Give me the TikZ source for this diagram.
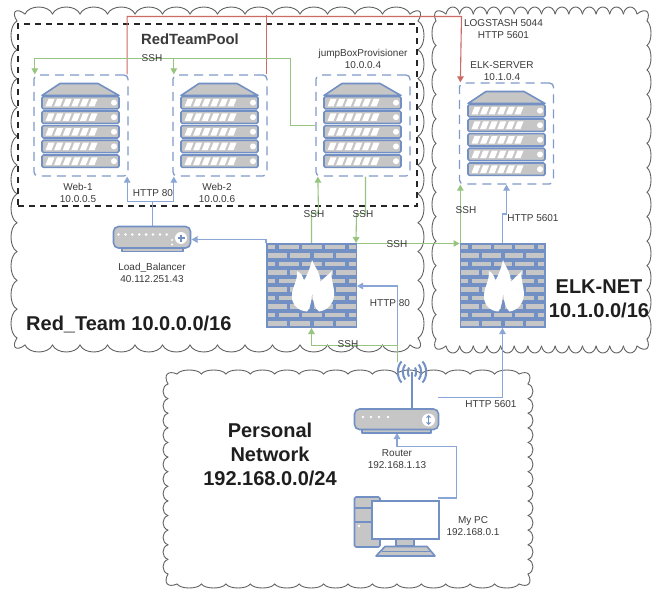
\documentclass[tikz,border=0pt]{standalone}
\usepackage{fontspec}
\setmainfont{Liberation Sans}
\usetikzlibrary{arrows.meta,calc}
\definecolor{iconblue}{HTML}{7290C4}
\definecolor{iconfill}{HTML}{C6C6C6}
\definecolor{linkblue}{HTML}{8AA6D6}
\definecolor{linkgreen}{HTML}{97C57F}
\definecolor{linkred}{HTML}{CC6A66}
\definecolor{labelgrey}{HTML}{3A3A3A}
\tikzset{
  cloudline/.style={draw=black!62,line width=0.9pt,line cap=round},
  poolbox/.style={draw=black!85,line width=1.7pt,dash pattern=on 6pt off 5pt},
  srvbox/.style={draw=iconblue!90,line width=1.3pt,dash pattern=on 9pt off 6pt,rounded corners=4pt,minimum width=94pt,minimum height=101pt,inner sep=0pt},
  iconbox/.style={inner sep=0pt,outer sep=0pt},
  txt/.style={text=labelgrey,inner sep=0pt,align=center,font=\fontsize{10}{12}\selectfont},
  bigtxt/.style={text=black!88,inner sep=0pt,align=center,font=\fontsize{20}{24}\selectfont\bfseries},
  link/.style={line width=1.1pt,rounded corners=0pt},
  blink/.style={link,draw=linkblue},
  glink/.style={link,draw=linkgreen},
  rlink/.style={link,draw=linkred},
  tip/.style={-{Triangle[length=6pt,width=6.5pt]}},
  iconline/.style={draw=iconblue,line width=1.6pt,fill=iconfill,line join=round},
}
\newcommand\bumps[8]{%
  \foreach \i in {1,...,#5}{%
    \pgfmathsetmacro\sdx{(#3-(#1))/#5}%
    \pgfmathsetmacro\sdy{(#4-(#2))/#5}%
    \pgfmathsetmacro\ax{#1+(\i-1)*\sdx}%
    \pgfmathsetmacro\ay{#2+(\i-1)*\sdy}%
    \pgfmathsetmacro\bx{\ax+\sdx}%
    \pgfmathsetmacro\by{\ay+\sdy}%
    \pgfmathsetmacro\pa{\ax+0.15*\sdx+1.333*#6*#7}%
    \pgfmathsetmacro\pb{\ay+0.15*\sdy+1.333*#6*#8}%
    \pgfmathsetmacro\qa{\bx-0.15*\sdx+1.333*#6*#7}%
    \pgfmathsetmacro\qb{\by-0.15*\sdy+1.333*#6*#8}%
    \draw[cloudline] (\ax,\ay) .. controls (\pa,\pb) and (\qa,\qb) .. (\bx,\by);
  }}
\newcommand\cloudbox[8]{%
  \pgfmathsetmacro\cc{14}%
  \pgfmathsetmacro\xa{#1+\cc}\pgfmathsetmacro\xb{#3-\cc}%
  \pgfmathsetmacro\ya{#2+\cc}\pgfmathsetmacro\yb{#4-\cc}%
  \pgfmathsetmacro\tt{#2+#7}\pgfmathsetmacro\bb{#4-#7}%
  \pgfmathsetmacro\ll{#1+#8}\pgfmathsetmacro\rr{#3-#8}%
  \let\XA\xa\let\XB\xb\let\YA\ya\let\YB\yb\let\TT\tt\let\BB\bb\let\LL\ll\let\RR\rr
  \bumps{\XA}{\TT}{\XB}{\TT}{#5}{#7}{0}{-1}%
  \bumps{\XA}{\BB}{\XB}{\BB}{#5}{#7}{0}{1}%
  \bumps{\LL}{\YA}{\LL}{\YB}{#6}{#8}{-1}{0}%
  \bumps{\RR}{\YA}{\RR}{\YB}{#6}{#8}{1}{0}%
  \draw[cloudline] (\XA,\TT) .. controls (#1+5,#2) and (#1,#2+5) .. (\LL,\YA);
  \draw[cloudline] (\XB,\TT) .. controls (#3-5,#2) and (#3,#2+5) .. (\RR,\YA);
  \draw[cloudline] (\XA,\BB) .. controls (#1+5,#4) and (#1,#4-5) .. (\LL,\YB);
  \draw[cloudline] (\XB,\BB) .. controls (#3-5,#4) and (#3,#4-5) .. (\RR,\YB);
}
% server icon, origin = NW corner of its dashed box
\newcommand\servericon[1]{%
  \begin{scope}[shift={(#1)}]
    \draw[iconline] (26,8.5) -- (64,8.5) -- (85,20.5) -- (8,20.5) -- cycle;
    \foreach \ry in {21.5,36,50.6,65.2,80}{
      \draw[iconline,rounded corners=1.5pt] (8,\ry) rectangle (85,\ry+12.4);
      \foreach \k in {0,...,5}{
        \fill[white] (11.5+8.6*\k,\ry+10) -- (17.5+8.6*\k,\ry+10) -- (20.5+8.6*\k,\ry+2.4) -- (14.5+8.6*\k,\ry+2.4) -- cycle;
      }
      \fill[white] (80,\ry+6.2) circle (3);
    }
  \end{scope}}
% firewall icon, origin = NW corner, design width 91, height 85
\newcommand\firewallicon[2]{%
  \begin{scope}[shift={(#1)},xscale=#2]
    \fill[iconblue] (0,0) rectangle (91,85);
    \foreach \r in {0,2,4,6,8}{
      \foreach \a/\b in {1.5/8.5,13/33,36/56,59/79,83/89.5}{
        \fill[iconfill] (\a,1.6+8.5*\r) rectangle (\b,6.4+8.5*\r);
      }
    }
    \foreach \r in {1,3,5,7,9}{
      \foreach \a/\b in {1.5/21,24/44,48/67,70/89.5}{
        \fill[iconfill] (\a,1.6+8.5*\r) rectangle (\b,6.4+8.5*\r);
      }
    }
    \fill[white] (46,50) .. controls (45.5,58) and (44,66) .. (41,68.5)
      .. controls (31,68) and (25,60) .. (26,52)
      .. controls (26,44) and (32,38) .. (31,28)
      .. controls (35,30) and (37,33) .. (38,38)
      .. controls (41,32) and (44,26) .. (46,17)
      .. controls (49,25) and (55,30) .. (54,39)
      .. controls (58,35) and (62,32) .. (66,28)
      .. controls (64,36) and (69,44) .. (68,53)
      .. controls (67,61) and (62,67) .. (53,68.5)
      .. controls (49,66) and (47,58) .. (46,50) -- cycle;
  \end{scope}}
\begin{document}
\begin{tikzpicture}[x=1pt,y=-1pt]
\useasboundingbox (0,0) rectangle (662,602);
\fill[white] (0,0) rectangle (662,602);

% network areas
\cloudbox{11}{7}{424}{352}{14}{11}{7}{6}
\cloudbox{432}{7}{651}{353}{14}{13}{7}{4}
\cloudbox{163}{370}{533}{588}{14}{13}{4}{5}

% named anchors for the icons
\node[poolbox,minimum width=399pt,minimum height=182pt,inner sep=0pt] (pool) at (217.5,115) {};
\node[srvbox] (web1) at (81,125.5) {};
\node[srvbox] (web2) at (220,125.5) {};
\node[srvbox] (jump) at (363,125.5) {};
\node[srvbox] (elk) at (506.5,133.5) {};
\node[iconbox,minimum width=91pt,minimum height=85pt] (fw1) at (311.5,285.5) {};
\node[iconbox,minimum width=86pt,minimum height=85pt] (fw2) at (502.5,285.5) {};
\node[iconbox,minimum width=78pt,minimum height=26pt] (lb) at (152.5,239.5) {};
\node[iconbox,minimum width=85pt,minimum height=24pt] (router) at (396.5,421) {};
\node[iconbox,minimum width=85pt,minimum height=59pt] (pc) at (396.5,527) {};

% route points
\coordinate (redtop) at (461.5,16.5);
\coordinate (sshtop) at (290.5,58.5);
\coordinate (httpsplit) at (152.5,201.5);
\coordinate (radio) at (397.5,362);
\coordinate (sshlow) at (311.5,345.5);
\coordinate (fiveeast) at (502.5,397.5);
\coordinate (fivewest) at (438,397.5);
\coordinate (pcbend) at (456.5,446.5);

% connectors
\draw[rlink] ([xshift=-1.5pt]web2.north east) -- ++(0,-59);
\draw[rlink,tip] ([xshift=-1.5pt]web1.north east) |- (redtop) -- ([xshift=1.5pt]elk.north west);

\draw[glink,tip] (jump.west) -| (sshtop) -| ([xshift=1.5pt]web1.north west);
\draw[glink,tip] (jump.west) -| (sshtop) -| ([xshift=1.5pt]web2.north west);

\draw[blink] (lb.north) -- (httpsplit);
\draw[blink,tip] (httpsplit) -| ([xshift=-1.5pt]web1.south east);
\draw[blink,tip] (httpsplit) -| ([xshift=1.5pt]web2.south west);

\draw[glink,tip] (fw1.north) -- ++(0,-30) -- ++(7,0) -- ([xshift=2.5pt]jump.south west);
\draw[glink,tip] ($(jump.south)+(2.5,0)$) -- ++(0,37) -- ++(-9,0) -- ($(fw1.north east)+(-1,0)$);
\draw[blink,tip] (fw1.north west) -- ++(0,-3.5) -- (lb.east);
\draw[glink,tip] ($(fw1.north east)+(0,0.5)$) -- ($(fw2.north west)+(0,0.5)$);
\draw[glink,tip] ([xshift=1.5pt]elk.south west |- fw2.north) -- ([xshift=1.5pt]elk.south west);
\draw[blink,tip] (fw2.north) -- ++(0,-29) -- ++(4,0) -- (elk.south);

\draw[blink,tip] (radio) |- ($(fw1.south east)+(0,-42)$);
\draw[glink,tip] (radio) |- (sshlow) -- (fw1.south);
\draw[blink] (fivewest) -- (fiveeast);
\draw[blink,tip] (fiveeast) -- (fw2.south);
\draw[blink] ($(pc.north east)+(-1,0.5)$) -| (pcbend);
\draw[blink,tip] (pcbend) -| ([xshift=0.5pt]router.south);

% icons
\servericon{34,75}
\servericon{173,75}
\servericon{316,75}
\servericon{460,83}
\firewallicon{266,243}{1}
\firewallicon{459.5,243}{0.945}

% load balancer
\draw[iconline] (122,248) -- (183,248) -- (183,251.5) -- (122,251.5) -- cycle;
\draw[iconline,rounded corners=5pt] (113.5,226.5) rectangle (190.5,248);
\foreach \k in {0,...,7}{\fill[white] (118.5+6.9*\k,234.5) circle (1.4);}
\fill[white] (172,240) circle (1.1);
\fill[white] (172,244.5) circle (1.1);
\fill[white] (181,238) circle (6);
\draw[iconblue,line width=1.3pt] (177.5,238) -- (184.5,238) (181,234.5) -- (181,241.5);

% router
\draw[iconblue,line width=2.2pt] (412,372) -- (412,409);
\foreach \dx/\dy in {4/4.5,9/7.5,14/10.5}{
  \draw[iconblue,line width=2pt] (412-0.75*\dx,372-\dy) .. controls (412-1.1*\dx,372-0.5*\dy) and (412-1.1*\dx,372+0.5*\dy) .. (412-0.75*\dx,372+\dy);
  \draw[iconblue,line width=2pt] (412+0.75*\dx,372-\dy) .. controls (412+1.1*\dx,372-0.5*\dy) and (412+1.1*\dx,372+0.5*\dy) .. (412+0.75*\dx,372+\dy);
}
\draw[iconline] (362,429) -- (431,429) -- (431,433) -- (362,433) -- cycle;
\draw[iconline,rounded corners=5pt] (354.5,409) rectangle (438.5,429.5);
\foreach \xx in {363,371,379,388}{\fill[white] (\xx,417) circle (1.4);}
\fill[white] (428.5,420) circle (6.5);
\draw[iconblue,line width=1pt,{Straight Barb[length=2pt,width=4pt]}-{Straight Barb[length=2pt,width=4pt]}] (428.5,415) -- (428.5,425);

% pc
\draw[iconline,rounded corners=1.5pt] (354.5,497) rectangle (380,547);
\draw[iconblue,line width=1.3pt] (354.5,508) -- (372,508) (354.5,522) -- (372,522);
\fill[white] (359,526) circle (1.3);
\draw[iconline] (396,539) rectangle (414,546);
\draw[iconline] (385,546.5) -- (427,546.5) -- (435,556) -- (376,556) -- cycle;
\draw[iconblue,line width=0.8pt] (382,551) -- (430,551);
\draw[iconblue,line width=1.8pt,fill=white] (372,501) rectangle (439,539);

% labels
\node[txt] (poolTitle) at (190,39) {\fontsize{14.8}{16}\selectfont\bfseries RedTeamPool};
\node[txt] (lsshtop) at (152,58.5) {SSH};
\node[txt] (lweb1) at (78,193) {Web-1\\10.0.0.5};
\node[txt] (lweb2) at (217,193) {Web-2\\10.0.0.6};
\node[txt] (lhttpa) at (153,193.5) {HTTP 80};
\node[txt] (ljump) at (363,59) {jumpBoxProvisioner\\10.0.0.4};
\node[txt] (llog) at (503.5,29) {LOGSTASH 5044\\HTTP 5601};
\node[txt] (lelk) at (502,71) {ELK-SERVER\\10.1.0.4};
\node[txt] (lssha) at (314,214) {SSH};
\node[txt] (lsshb) at (363,214) {SSH};
\node[txt] (lsshc) at (397,244) {SSH};
\node[txt] (lsshd) at (466,210) {SSH};
\node[txt] (lsshe) at (348,344.5) {SSH};
\node[txt] (lhttpe) at (533,218.5) {HTTP 5601};
\node[txt] (lhttpb) at (390,303) {HTTP 80};
\node[txt] (lhttpf) at (491,404) {HTTP 5601};
\node[txt] (llb) at (152,273) {Load\_Balancer\\40.112.251.43};
\node[txt] (lrouter) at (397,459) {Router\\192.168.1.13};
\node[txt] (lpc) at (473,526) {My PC\\192.168.0.1};
\node[bigtxt,anchor=west] (lred) at (26,324) {Red\_Team 10.0.0.0/16};
\node[bigtxt] (lelknet) at (599,298.5) {ELK-NET\\10.1.0.0/16};
\node[bigtxt] (lpers) at (270,454.5) {Personal\\Network\\192.168.0.0/24};
\end{tikzpicture}
\end{document}
